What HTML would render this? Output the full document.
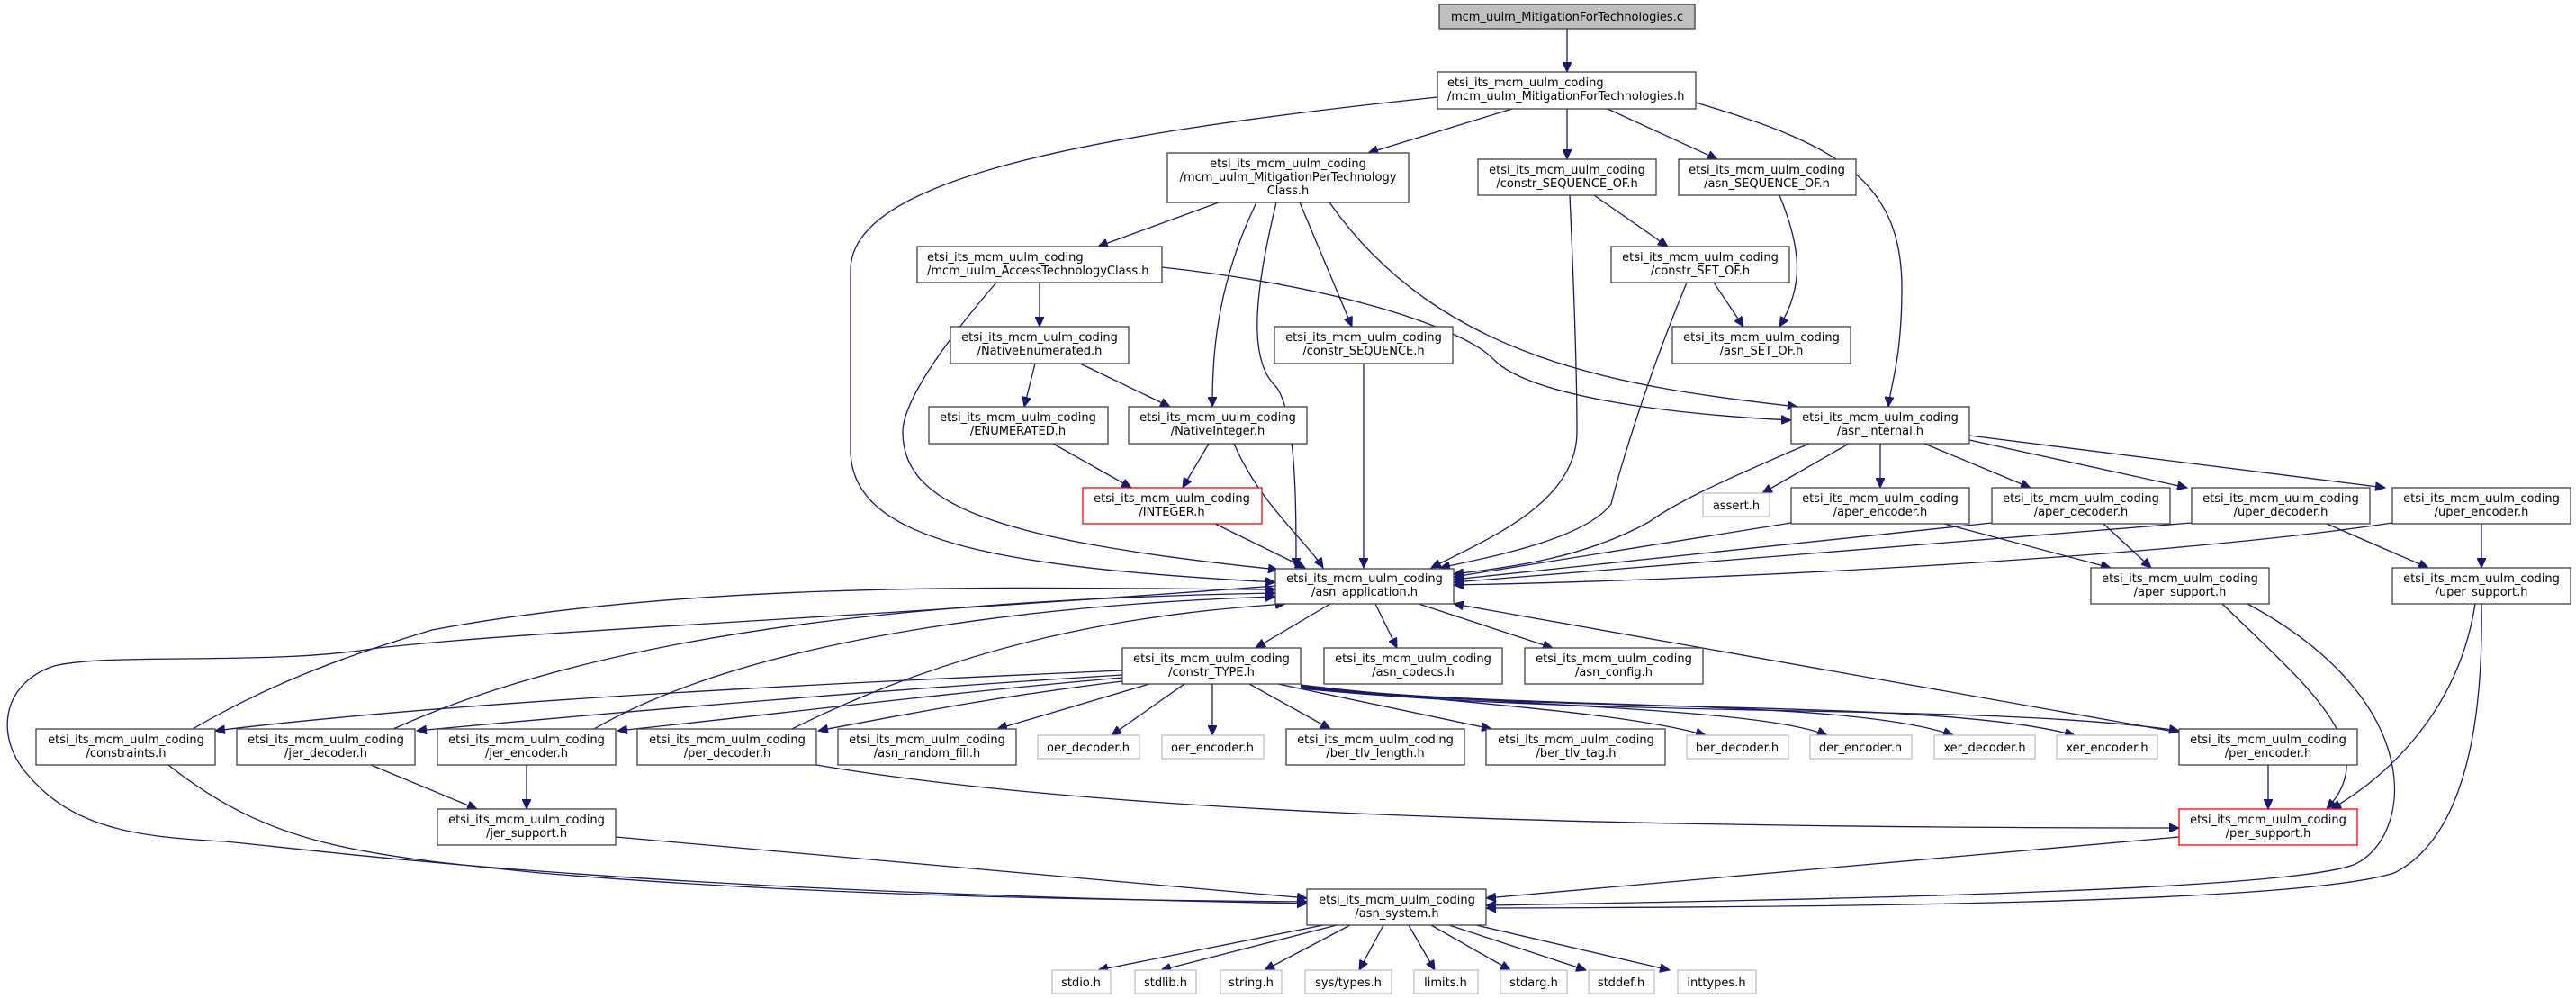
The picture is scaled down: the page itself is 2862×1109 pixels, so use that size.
<!DOCTYPE html>
<html><head><meta charset="utf-8"><style>
html,body{margin:0;padding:0;background:#fff;}
svg{display:block;}
text{font-family:"DejaVu Sans","Liberation Sans",sans-serif;font-size:13px;fill:#000;}
.n rect{fill:#fff;stroke:#404040;stroke-width:1.3;}
.g rect{fill:#fff;stroke:#bfbfbf;stroke-width:1.3;}
.r rect{fill:#fff;stroke:#ff0000;stroke-width:1.3;}
.e path{fill:none;stroke:#191970;stroke-width:1.3;}
</style></head><body>
<svg width="2862" height="1109" viewBox="0 0 2862 1109" xmlns="http://www.w3.org/2000/svg">
<defs><marker id="a" markerUnits="userSpaceOnUse" markerWidth="12" markerHeight="10" refX="11" refY="5" orient="auto"><path d="M0,0 L11,5 L0,10 Z" fill="#191970" stroke="#191970"/></marker></defs>
<g class="e">
<path marker-end="url(#a)" d="M1741,32 L1741,80"/>
<path marker-end="url(#a)" d="M1597,108 C1200,150 945,200 945,300 L945,500 C945,600 1100,630 1417,647"/>
<path marker-end="url(#a)" d="M1680,121 L1520,170"/>
<path marker-end="url(#a)" d="M1741,121 L1741,177"/>
<path marker-end="url(#a)" d="M1786,121 L1908,177"/>
<path marker-end="url(#a)" d="M1884,114 C2040,160 2113,200 2113,320 C2113,400 2100,430 2098,452"/>
<path marker-end="url(#a)" d="M1354,225 L1220,274"/>
<path marker-end="url(#a)" d="M1396,225 C1350,320 1347,400 1347,452"/>
<path marker-end="url(#a)" d="M1418,225 C1395,320 1385,400 1418,430 C1440,460 1440,560 1440,631"/>
<path marker-end="url(#a)" d="M1444,225 L1502,363"/>
<path marker-end="url(#a)" d="M1477,225 C1600,400 1800,430 1997,452"/>
<path marker-end="url(#a)" d="M1107,314 C1050,380 1003,446 1003,480 C1003,560 1100,600 1420,633"/>
<path marker-end="url(#a)" d="M1155,314 L1155,363"/>
<path marker-end="url(#a)" d="M1291,297 C1500,320 1631,368 1660,400 C1700,440 1850,460 1990,467"/>
<path marker-end="url(#a)" d="M1150,404 L1138,452"/>
<path marker-end="url(#a)" d="M1200,404 L1300,452"/>
<path marker-end="url(#a)" d="M1170,493 L1257,542"/>
<path marker-end="url(#a)" d="M1343,493 L1314,542"/>
<path marker-end="url(#a)" d="M1371,493 C1400,560 1450,600 1470,631"/>
<path marker-end="url(#a)" d="M1350,582 L1450,631"/>
<path marker-end="url(#a)" d="M1744,217 C1750,350 1752,420 1752,480 C1752,560 1650,600 1590,631"/>
<path marker-end="url(#a)" d="M1771,217 L1853,274"/>
<path marker-end="url(#a)" d="M1977,217 C2003,280 2003,320 1977,363"/>
<path marker-end="url(#a)" d="M1904,314 L1937,363"/>
<path marker-end="url(#a)" d="M1874,314 C1830,420 1800,520 1790,560 C1760,600 1650,620 1600,631"/>
<path marker-end="url(#a)" d="M1515,404 L1515,631"/>
<path marker-end="url(#a)" d="M2010,493 C1900,540 1860,560 1832,580 C1760,620 1680,630 1615,638"/>
<path marker-end="url(#a)" d="M2054,493 L1958,548"/>
<path marker-end="url(#a)" d="M2089,493 L2089,542"/>
<path marker-end="url(#a)" d="M2138,493 L2256,542"/>
<path marker-end="url(#a)" d="M2188,489 L2430,542"/>
<path marker-end="url(#a)" d="M2188,484 L2650,542"/>
<path marker-end="url(#a)" d="M1990,581 L1615,641"/>
<path marker-end="url(#a)" d="M2160,582 L2345,631"/>
<path marker-end="url(#a)" d="M2213,581 L1615,644"/>
<path marker-end="url(#a)" d="M2337,582 L2390,631"/>
<path marker-end="url(#a)" d="M2435,581 L1615,647"/>
<path marker-end="url(#a)" d="M2585,582 L2698,631"/>
<path marker-end="url(#a)" d="M2658,581 C2400,620 1900,645 1615,650"/>
<path marker-end="url(#a)" d="M2757,582 L2757,631"/>
<path marker-end="url(#a)" d="M2469,671 C2560,760 2650,830 2585,899"/>
<path marker-end="url(#a)" d="M2497,671 C2700,780 2680,930 2617,960 C2550,990 2000,1000 1651,1006"/>
<path marker-end="url(#a)" d="M2750,671 C2730,800 2640,870 2590,899"/>
<path marker-end="url(#a)" d="M2757,671 C2760,850 2720,940 2660,970 C2550,1005 2000,1008 1651,1009"/>
<path marker-end="url(#a)" d="M1478,671 L1395,720"/>
<path marker-end="url(#a)" d="M1528,671 L1552,720"/>
<path marker-end="url(#a)" d="M1576,671 L1725,720"/>
<path marker-end="url(#a)" d="M2421,814 L1615,671"/>
<path marker-end="url(#a)" d="M214,810 C300,760 380,730 480,700 C800,640 1200,655 1417,655"/>
<path marker-end="url(#a)" d="M437,810 C700,690 1100,665 1417,659"/>
<path marker-end="url(#a)" d="M660,810 C850,700 1200,670 1417,663"/>
<path marker-end="url(#a)" d="M880,810 C1100,700 1300,680 1428,671"/>
<path marker-end="url(#a)" d="M1417,651 C900,690 600,700 420,720 C300,740 120,725 60,740 C0,760 -5,820 30,860 C80,920 150,930 250,935 C400,950 700,990 1452,1004"/>
<path marker-end="url(#a)" d="M1247,745 C900,760 500,780 239,812"/>
<path marker-end="url(#a)" d="M1247,750 C1000,765 700,790 463,812"/>
<path marker-end="url(#a)" d="M1247,753 C1050,770 850,795 686,812"/>
<path marker-end="url(#a)" d="M1247,757 C1100,775 1000,795 909,812"/>
<path marker-end="url(#a)" d="M1277,760 L1108,810"/>
<path marker-end="url(#a)" d="M1316,760 L1235,817"/>
<path marker-end="url(#a)" d="M1347,760 L1347,817"/>
<path marker-end="url(#a)" d="M1388,760 L1478,810"/>
<path marker-end="url(#a)" d="M1420,760 L1657,810"/>
<path marker-end="url(#a)" d="M1445,761 C1600,780 1800,790 1895,817"/>
<path marker-end="url(#a)" d="M1445,762 C1650,785 1950,785 2030,817"/>
<path marker-end="url(#a)" d="M1445,763 C1700,790 2050,775 2170,817"/>
<path marker-end="url(#a)" d="M1445,764 C1750,795 2150,775 2305,817"/>
<path marker-end="url(#a)" d="M1445,765 C1800,800 2200,780 2421,812"/>
<path marker-end="url(#a)" d="M187,850 C300,940 400,950 600,970 C900,995 1200,1000 1452,1002"/>
<path marker-end="url(#a)" d="M412,850 L530,899"/>
<path marker-end="url(#a)" d="M585,850 L585,899"/>
<path marker-end="url(#a)" d="M907,850 C1200,900 1700,920 2421,920"/>
<path marker-end="url(#a)" d="M684,930 L1452,998"/>
<path marker-end="url(#a)" d="M2421,930 L1651,998"/>
<path marker-end="url(#a)" d="M2520,850 L2520,899"/>
<path marker-end="url(#a)" d="M1470,1028 L1220,1078"/>
<path marker-end="url(#a)" d="M1485,1028 L1290,1078"/>
<path marker-end="url(#a)" d="M1500,1028 L1405,1078"/>
<path marker-end="url(#a)" d="M1537,1028 L1510,1078"/>
<path marker-end="url(#a)" d="M1565,1028 L1594,1078"/>
<path marker-end="url(#a)" d="M1590,1028 L1678,1078"/>
<path marker-end="url(#a)" d="M1610,1028 L1762,1078"/>
<path marker-end="url(#a)" d="M1640,1028 L1855,1078"/>
</g>
<g text-anchor="middle">
<g class="n"><rect x="1599" y="5" width="284" height="27" style="fill:#bfbfbf"/><text x="1741" y="23">mcm_uulm_MitigationForTechnologies.c</text></g>
<g class="n"><rect x="1597" y="80" width="287" height="41"/><text x="1608" y="96" text-anchor="start">etsi_its_mcm_uulm_coding</text><text x="1608" y="111" text-anchor="start">/mcm_uulm_MitigationForTechnologies.h</text></g>
<g class="n"><rect x="1297" y="170" width="268" height="55"/><text x="1431" y="186">etsi_its_mcm_uulm_coding</text><text x="1431" y="201">/mcm_uulm_MitigationPerTechnology</text><text x="1431" y="216">Class.h</text></g>
<g class="n"><rect x="1642" y="177" width="198" height="40"/><text x="1741" y="193">etsi_its_mcm_uulm_coding</text><text x="1741" y="208">/constr_SEQUENCE_OF.h</text></g>
<g class="n"><rect x="1865" y="177" width="197" height="40"/><text x="1963" y="193">etsi_its_mcm_uulm_coding</text><text x="1963" y="208">/asn_SEQUENCE_OF.h</text></g>
<g class="n"><rect x="1019" y="274" width="272" height="40"/><text x="1030" y="290" text-anchor="start">etsi_its_mcm_uulm_coding</text><text x="1030" y="305" text-anchor="start">/mcm_uulm_AccessTechnologyClass.h</text></g>
<g class="n"><rect x="1790" y="274" width="198" height="40"/><text x="1889" y="290">etsi_its_mcm_uulm_coding</text><text x="1889" y="305">/constr_SET_OF.h</text></g>
<g class="n"><rect x="1056" y="363" width="198" height="41"/><text x="1155" y="379">etsi_its_mcm_uulm_coding</text><text x="1155" y="394">/NativeEnumerated.h</text></g>
<g class="n"><rect x="1416" y="363" width="198" height="41"/><text x="1515" y="379">etsi_its_mcm_uulm_coding</text><text x="1515" y="394">/constr_SEQUENCE.h</text></g>
<g class="n"><rect x="1858" y="363" width="198" height="41"/><text x="1957" y="379">etsi_its_mcm_uulm_coding</text><text x="1957" y="394">/asn_SET_OF.h</text></g>
<g class="n"><rect x="1032" y="452" width="199" height="41"/><text x="1131" y="468">etsi_its_mcm_uulm_coding</text><text x="1131" y="483">/ENUMERATED.h</text></g>
<g class="n"><rect x="1254" y="452" width="198" height="41"/><text x="1353" y="468">etsi_its_mcm_uulm_coding</text><text x="1353" y="483">/NativeInteger.h</text></g>
<g class="n"><rect x="1990" y="452" width="198" height="41"/><text x="2089" y="468">etsi_its_mcm_uulm_coding</text><text x="2089" y="483">/asn_internal.h</text></g>
<g class="r"><rect x="1203" y="542" width="199" height="40"/><text x="1302" y="558">etsi_its_mcm_uulm_coding</text><text x="1302" y="573">/INTEGER.h</text></g>
<g class="g"><rect x="1892" y="548" width="74" height="26"/><text x="1929" y="566">assert.h</text></g>
<g class="n"><rect x="1990" y="542" width="198" height="40"/><text x="2089" y="558">etsi_its_mcm_uulm_coding</text><text x="2089" y="573">/aper_encoder.h</text></g>
<g class="n"><rect x="2213" y="542" width="198" height="40"/><text x="2312" y="558">etsi_its_mcm_uulm_coding</text><text x="2312" y="573">/aper_decoder.h</text></g>
<g class="n"><rect x="2435" y="542" width="198" height="40"/><text x="2534" y="558">etsi_its_mcm_uulm_coding</text><text x="2534" y="573">/uper_decoder.h</text></g>
<g class="n"><rect x="2658" y="542" width="198" height="40"/><text x="2757" y="558">etsi_its_mcm_uulm_coding</text><text x="2757" y="573">/uper_encoder.h</text></g>
<g class="n"><rect x="1417" y="632" width="198" height="39"/><text x="1516" y="647">etsi_its_mcm_uulm_coding</text><text x="1516" y="662">/asn_application.h</text></g>
<g class="n"><rect x="2323" y="631" width="198" height="40"/><text x="2422" y="647">etsi_its_mcm_uulm_coding</text><text x="2422" y="662">/aper_support.h</text></g>
<g class="n"><rect x="2658" y="631" width="198" height="40"/><text x="2757" y="647">etsi_its_mcm_uulm_coding</text><text x="2757" y="662">/uper_support.h</text></g>
<g class="n"><rect x="1247" y="720" width="198" height="40"/><text x="1346" y="736">etsi_its_mcm_uulm_coding</text><text x="1346" y="751">/constr_TYPE.h</text></g>
<g class="n"><rect x="1471" y="720" width="198" height="40"/><text x="1570" y="736">etsi_its_mcm_uulm_coding</text><text x="1570" y="751">/asn_codecs.h</text></g>
<g class="n"><rect x="1694" y="720" width="198" height="40"/><text x="1793" y="736">etsi_its_mcm_uulm_coding</text><text x="1793" y="751">/asn_config.h</text></g>
<g class="n"><rect x="40" y="810" width="199" height="40"/><text x="140" y="826">etsi_its_mcm_uulm_coding</text><text x="140" y="841">/constraints.h</text></g>
<g class="n"><rect x="263" y="810" width="198" height="40"/><text x="362" y="826">etsi_its_mcm_uulm_coding</text><text x="362" y="841">/jer_decoder.h</text></g>
<g class="n"><rect x="486" y="810" width="198" height="40"/><text x="585" y="826">etsi_its_mcm_uulm_coding</text><text x="585" y="841">/jer_encoder.h</text></g>
<g class="n"><rect x="708" y="810" width="199" height="40"/><text x="808" y="826">etsi_its_mcm_uulm_coding</text><text x="808" y="841">/per_decoder.h</text></g>
<g class="n"><rect x="931" y="810" width="198" height="40"/><text x="1030" y="826">etsi_its_mcm_uulm_coding</text><text x="1030" y="841">/asn_random_fill.h</text></g>
<g class="g"><rect x="1153" y="817" width="113" height="26"/><text x="1209" y="835">oer_decoder.h</text></g>
<g class="g"><rect x="1291" y="817" width="113" height="26"/><text x="1347" y="835">oer_encoder.h</text></g>
<g class="n"><rect x="1429" y="810" width="198" height="40"/><text x="1528" y="826">etsi_its_mcm_uulm_coding</text><text x="1528" y="841">/ber_tlv_length.h</text></g>
<g class="n"><rect x="1651" y="810" width="199" height="40"/><text x="1751" y="826">etsi_its_mcm_uulm_coding</text><text x="1751" y="841">/ber_tlv_tag.h</text></g>
<g class="g"><rect x="1874" y="817" width="113" height="26"/><text x="1930" y="835">ber_decoder.h</text></g>
<g class="g"><rect x="2011" y="817" width="113" height="26"/><text x="2067" y="835">der_encoder.h</text></g>
<g class="g"><rect x="2149" y="817" width="112" height="26"/><text x="2205" y="835">xer_decoder.h</text></g>
<g class="g"><rect x="2285" y="817" width="112" height="26"/><text x="2341" y="835">xer_encoder.h</text></g>
<g class="n"><rect x="2421" y="810" width="198" height="40"/><text x="2520" y="826">etsi_its_mcm_uulm_coding</text><text x="2520" y="841">/per_encoder.h</text></g>
<g class="n"><rect x="486" y="899" width="198" height="40"/><text x="585" y="915">etsi_its_mcm_uulm_coding</text><text x="585" y="930">/jer_support.h</text></g>
<g class="r"><rect x="2421" y="899" width="198" height="40"/><text x="2520" y="915">etsi_its_mcm_uulm_coding</text><text x="2520" y="930">/per_support.h</text></g>
<g class="n"><rect x="1452" y="988" width="199" height="40"/><text x="1552" y="1004">etsi_its_mcm_uulm_coding</text><text x="1552" y="1019">/asn_system.h</text></g>
<g class="g"><rect x="1169" y="1078" width="65" height="26"/><text x="1201" y="1096">stdio.h</text></g>
<g class="g"><rect x="1261" y="1078" width="68" height="26"/><text x="1295" y="1096">stdlib.h</text></g>
<g class="g"><rect x="1356" y="1078" width="68" height="26"/><text x="1390" y="1096">string.h</text></g>
<g class="g"><rect x="1450" y="1078" width="96" height="26"/><text x="1498" y="1096">sys/types.h</text></g>
<g class="g"><rect x="1571" y="1078" width="71" height="26"/><text x="1606" y="1096">limits.h</text></g>
<g class="g"><rect x="1667" y="1078" width="74" height="26"/><text x="1704" y="1096">stdarg.h</text></g>
<g class="g"><rect x="1765" y="1078" width="73" height="26"/><text x="1801" y="1096">stddef.h</text></g>
<g class="g"><rect x="1864" y="1078" width="87" height="26"/><text x="1907" y="1096">inttypes.h</text></g>
</g>
</svg>
</body></html>
